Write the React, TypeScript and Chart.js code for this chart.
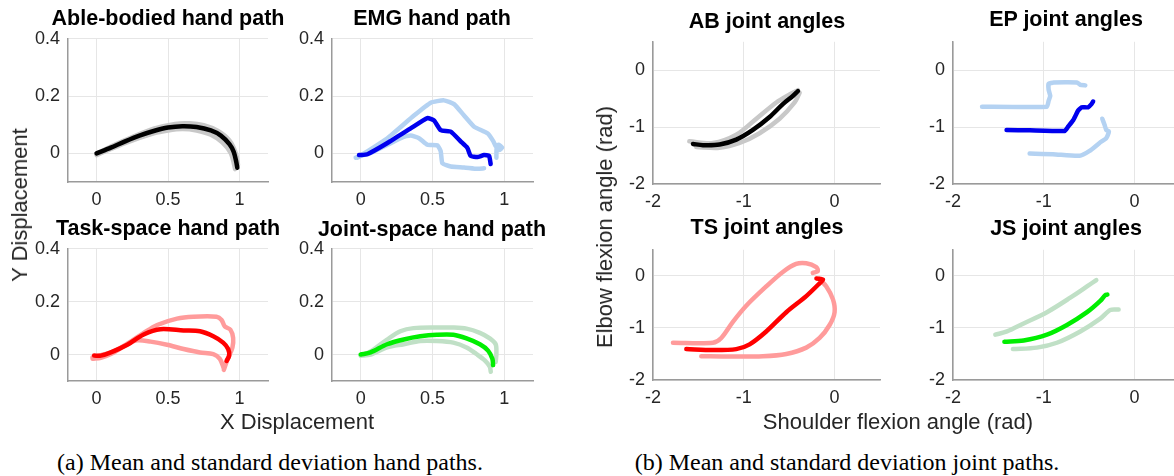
import React, { useEffect, useRef } from 'react';
import { Chart, registerables } from 'chart.js';

Chart.register(...registerables);

// ---------- tick values / labels ----------
const handXRange = [-0.2, 1.2];
const handYRange = [-0.1, 0.4];
const handXTicks = [0, 0.5, 1];
const handXTickLabels = ['0', '0.5', '1'];
const handYTicks = [0, 0.2, 0.4];
const handYTickLabels = ['0', '0.2', '0.4'];
const jointRange = [-2, 0.5];
const jointTicks = [-2, -1, 0];
const jointTickLabels = ['-2', '-1', '0'];

// ---------- titles / labels ----------
const handTitles = ['Able-bodied hand path', 'EMG hand path', 'Task-space hand path', 'Joint-space hand path'];
const jointTitles = ['AB joint angles', 'EP joint angles', 'TS joint angles', 'JS joint angles'];
const handXLabel = 'X Displacement';
const handYLabel = 'Y Displacement';
const jointXLabel = 'Shoulder flexion angle (rad)';
const jointYLabel = 'Elbow flexion angle (rad)';
const captionA = '(a) Mean and standard deviation hand paths.';
const captionB = '(b) Mean and standard deviation joint paths.';

// ---------- hand paths [x, y] ----------
const abHandMean = [[0, 0], [0.1, 0.02], [0.2, 0.042], [0.3, 0.062], [0.4, 0.078], [0.5, 0.09], [0.6, 0.095], [0.7, 0.092], [0.8, 0.08], [0.87, 0.062], [0.93, 0.032], [0.96, 0.005], [0.978, -0.03], [0.985, -0.05]];
const abHandUpper = [[0, 0], [0.2, 0.046], [0.4, 0.086], [0.55, 0.103], [0.65, 0.105], [0.75, 0.098], [0.85, 0.078], [0.93, 0.045], [0.975, 0.0], [0.99, -0.04]];
const abHandLower = [[0, -0.006], [0.2, 0.036], [0.4, 0.07], [0.5, 0.08], [0.6, 0.085], [0.7, 0.08], [0.8, 0.065], [0.88, 0.038], [0.94, 0.0], [0.97, -0.055]];

const emgHandMean = [[-0.012, -0.006], [0.047, -0.003], [0.186, 0.036], [0.348, 0.087], [0.464, 0.123], [0.51, 0.115], [0.557, 0.081], [0.627, 0.076], [0.696, 0.042], [0.743, 0.019], [0.766, -0.009], [0.813, -0.013], [0.859, -0.006], [0.894, -0.009], [0.905, -0.037]];
const emgHandUpper = [[-0.023, -0.015], [0.186, 0.053], [0.371, 0.132], [0.488, 0.177], [0.58, 0.185], [0.65, 0.172], [0.72, 0.132], [0.79, 0.093], [0.883, 0.07], [0.924, 0.042], [0.94, 0.025], [0.96, 0.03], [0.985, 0.02], [0.965, 0.012], [0.947, 0.02], [0.945, -0.015]];
const emgHandLower = [[-0.035, -0.015], [0.07, 0.002], [0.186, 0.03], [0.279, 0.053], [0.348, 0.062], [0.406, 0.053], [0.464, 0.03], [0.534, 0.028], [0.557, 0.008], [0.569, -0.035], [0.627, -0.046], [0.72, -0.049], [0.813, -0.054], [0.859, -0.052]];

const tsHandMean = [[-0.017, -0.004], [0.03, -0.004], [0.1, 0.008], [0.215, 0.037], [0.33, 0.076], [0.447, 0.096], [0.609, 0.091], [0.724, 0.088], [0.817, 0.069], [0.886, 0.045], [0.921, 0.021], [0.928, -0.004], [0.91, -0.024]];
const tsHandUpper = [[-0.028, -0.01], [0.1, 0.008], [0.215, 0.041], [0.33, 0.082], [0.424, 0.112], [0.563, 0.136], [0.678, 0.143], [0.84, 0.143], [0.875, 0.131], [0.898, 0.106], [0.937, 0.094], [0.956, 0.063], [0.951, 0.027], [0.928, -0.004], [0.91, -0.028], [0.891, -0.058]];
const tsHandLower = [[-0.028, -0.016], [0.03, -0.012], [0.1, 0.002], [0.215, 0.039], [0.285, 0.054], [0.378, 0.049], [0.493, 0.037], [0.609, 0.021], [0.724, 0.008], [0.817, 0.002], [0.863, -0.016], [0.891, -0.052]];

const jsHandMean = [[0, 0], [0.069, 0.008], [0.184, 0.039], [0.3, 0.057], [0.415, 0.069], [0.53, 0.075], [0.645, 0.075], [0.737, 0.061], [0.83, 0.039], [0.887, 0.015], [0.917, -0.016], [0.922, -0.04]];
const jsHandUpper = [[0, -0.004], [0.069, 0.012], [0.184, 0.057], [0.276, 0.088], [0.368, 0.1], [0.53, 0.102], [0.645, 0.102], [0.737, 0.098], [0.83, 0.082], [0.899, 0.061], [0.94, 0.039], [0.945, 0.002], [0.94, -0.028]];
const jsHandLower = [[0, -0.004], [0.069, 0], [0.184, 0.027], [0.3, 0.039], [0.415, 0.051], [0.53, 0.051], [0.645, 0.045], [0.737, 0.027], [0.806, 0.002], [0.864, -0.022], [0.899, -0.046], [0.906, -0.065]];

// ---------- joint paths [shoulder, elbow] ----------
const abJointMean = [[-1.56, -1.295], [-1.45, -1.317], [-1.267, -1.306], [-1.083, -1.22], [-0.9, -1.05], [-0.716, -0.823], [-0.57, -0.596], [-0.46, -0.453], [-0.404, -0.368]];
const abJointUpper = [[-1.6, -1.25], [-1.34, -1.28], [-1.083, -1.135], [-0.862, -0.852], [-0.642, -0.567], [-0.496, -0.426], [-0.404, -0.351]];
const abJointLower = [[-1.523, -1.351], [-1.267, -1.363], [-1.046, -1.278], [-0.826, -1.107], [-0.606, -0.852], [-0.44, -0.567], [-0.385, -0.397]];

const epJointMean = [[-1.41, -1.05], [-1.154, -1.056], [-0.769, -1.067], [-0.733, -0.993], [-0.677, -0.879], [-0.622, -0.709], [-0.585, -0.652], [-0.512, -0.652], [-0.475, -0.596], [-0.457, -0.55]];
const epJointUpper = [[-1.68, -0.641], [-0.965, -0.641], [-0.947, -0.538], [-0.929, -0.453], [-0.947, -0.341], [-0.947, -0.239], [-0.892, -0.215], [-0.635, -0.215], [-0.598, -0.256], [-0.543, -0.266]];
const epJointLower = [[-1.156, -1.465], [-0.9, -1.475], [-0.606, -1.504], [-0.496, -1.419], [-0.386, -1.278], [-0.312, -1.193], [-0.283, -1.078], [-0.312, -1.05], [-0.33, -0.964], [-0.356, -0.852]];

const tsJointMean = [[-1.633, -1.407], [-1.34, -1.426], [-1.083, -1.407], [-0.936, -1.315], [-0.753, -1.068], [-0.532, -0.698], [-0.312, -0.389], [-0.165, -0.143], [-0.128, -0.07], [-0.2, -0.05]];
const tsJointUpper = [[-1.78, -1.285], [-1.34, -1.285], [-1.248, -1.193], [-1.12, -0.883], [-0.973, -0.574], [-0.753, -0.204], [-0.57, 0.074], [-0.424, 0.228], [-0.312, 0.241], [-0.202, 0.167], [-0.184, 0.093], [-0.24, 0.056]];
const tsJointLower = [[-0.17, -0.06], [-0.091, -0.204], [-0.018, -0.452], [0, -0.698], [-0.055, -0.944], [-0.165, -1.193], [-0.312, -1.378], [-0.532, -1.5], [-0.789, -1.544], [-1.156, -1.55], [-1.468, -1.544]];

const jsJointMean = [[-1.434, -1.266], [-1.222, -1.241], [-0.965, -1.13], [-0.745, -0.944], [-0.524, -0.698], [-0.378, -0.481], [-0.323, -0.37], [-0.3, -0.36]];
const jsJointUpper = [[-1.534, -1.13], [-1.405, -1.068], [-1.222, -0.914], [-0.965, -0.698], [-0.708, -0.42], [-0.524, -0.204], [-0.422, -0.081]];
const jsJointLower = [[-1.34, -1.407], [-1.076, -1.378], [-0.856, -1.285], [-0.598, -1.068], [-0.378, -0.822], [-0.268, -0.656], [-0.176, -0.648]];

// ---------- styling ----------
const FONT = '"Liberation Sans", Arial, Helvetica, sans-serif';
const SERIF = '"Liberation Serif", "Times New Roman", serif';
const TICK_COLOR = '#262626';
const GRID_COLOR = '#e6e6e6';
const AXIS_COLOR = '#9a9a9a';
const WY = 60; // y-axis box width
const HX = 40; // x-axis box height
const PT = 14; // top padding
const PR = 20; // right padding
const MEAN_W = 4.5;
const BAND_W = 4.5;

type Series = { data: number[][]; color: string; width: number; tension: number; layer: number };
type Box = { l: number; t: number; r: number; b: number };

function Panel(props: {
  box: Box; xRange: number[]; yRange: number[];
  xTicks: number[]; xLabels: string[]; yTicks: number[]; yLabels: string[];
  series: Series[];
}) {
  const ref = useRef<HTMLCanvasElement | null>(null);
  const { box } = props;
  const w = box.r - box.l + WY + PR;
  const h = box.b - box.t + PT + HX;
  useEffect(() => {
    const chart = new Chart(ref.current as HTMLCanvasElement, {
      type: 'scatter',
      data: {
        datasets: props.series.map((s) => ({
          data: s.data.map(([x, y]) => ({ x, y })),
          borderColor: s.color,
          backgroundColor: s.color,
          borderWidth: s.width,
          showLine: true,
          pointRadius: 0,
          pointHoverRadius: 0,
          tension: s.tension,
          borderCapStyle: 'round',
          borderJoinStyle: 'round',
          fill: false,
          order: s.layer,
        })),
      },
      options: {
        responsive: false,
        animation: false,
        events: [],
        layout: { padding: { top: PT, right: PR, left: 0, bottom: 0 } },
        plugins: { legend: { display: false }, tooltip: { enabled: false }, title: { display: false } },
        scales: {
          x: {
            type: 'linear',
            min: props.xRange[0],
            max: props.xRange[1],
            afterBuildTicks: (s: any) => { s.ticks = props.xTicks.map((v) => ({ value: v })); },
            afterFit: (s: any) => { s.height = HX; },
            ticks: {
              autoSkip: false,
              maxRotation: 0,
              padding: 7,
              color: TICK_COLOR,
              font: { size: 18, family: FONT },
              callback: (_v: any, i: number) => props.xLabels[i],
            },
            grid: { color: GRID_COLOR, drawTicks: false, lineWidth: 1 },
            border: { display: true, color: AXIS_COLOR, width: 1.5 },
          },
          y: {
            type: 'linear',
            min: props.yRange[0],
            max: props.yRange[1],
            afterBuildTicks: (s: any) => { s.ticks = props.yTicks.map((v) => ({ value: v })); },
            afterFit: (s: any) => { s.width = WY; },
            ticks: {
              autoSkip: false,
              padding: 8,
              color: TICK_COLOR,
              font: { size: 18, family: FONT },
              callback: (_v: any, i: number) => props.yLabels[i],
            },
            grid: { color: GRID_COLOR, drawTicks: false, lineWidth: 1 },
            border: { display: true, color: AXIS_COLOR, width: 1.5 },
          },
        },
      } as any,
    });
    return () => chart.destroy();
  }, []);
  return (
    <canvas
      ref={ref}
      width={w}
      height={h}
      style={{ position: 'absolute', left: box.l - WY, top: box.t - PT, width: w, height: h }}
    />
  );
}

function Label(props: { text: string; x: number; y: number; size: number; bold?: boolean; rotate?: boolean; family?: string; color?: string }) {
  return (
    <div
      style={{
        position: 'absolute',
        left: props.x,
        top: props.y,
        transform: `translate(-50%, -50%)${props.rotate ? ' rotate(-90deg)' : ''}`,
        fontFamily: props.family || FONT,
        fontSize: props.size,
        fontWeight: props.bold ? 'bold' : 'normal',
        lineHeight: 1,
        whiteSpace: 'nowrap',
        color: props.color || '#000',
      }}
    >
      {props.text}
    </div>
  );
}

// bands are drawn below (higher order), mean on top (order 0)
const band = (data: number[][], color: string, tension: number): Series => ({ data, color, width: BAND_W, tension, layer: 1 });
const mean = (data: number[][], color: string, tension: number): Series => ({ data, color, width: MEAN_W, tension, layer: 0 });

const GRAY_BAND = 'rgb(200,200,200)';
const BLUE_BAND = 'rgb(180,210,242)';
const RED_BAND = 'rgb(255,155,155)';
const GREEN_BAND = 'rgb(192,224,198)';

export default function App() {
  useEffect(() => {
    document.body.style.margin = '0';
  }, []);
  const hand = { xRange: handXRange, yRange: handYRange, xTicks: handXTicks, xLabels: handXTickLabels, yTicks: handYTicks, yLabels: handYTickLabels };
  const joint = { xRange: jointRange, yRange: jointRange, xTicks: jointTicks, xLabels: jointTickLabels, yTicks: jointTicks, yLabels: jointTickLabels };
  return (
    <div style={{ position: 'fixed', left: 0, top: 0, width: 1174, height: 476, overflow: 'hidden', background: '#fff' }}>
      <Panel box={{ l: 68, t: 34, r: 268, b: 182 }} {...hand}
        series={[band(abHandUpper, GRAY_BAND, 0.3), band(abHandLower, GRAY_BAND, 0.3), mean(abHandMean, '#000000', 0.3)]} />
      <Panel box={{ l: 332, t: 34, r: 533, b: 182 }} {...hand}
        series={[band(emgHandUpper, BLUE_BAND, 0.15), band(emgHandLower, BLUE_BAND, 0.15), mean(emgHandMean, '#0000ee', 0.15)]} />
      <Panel box={{ l: 68, t: 244, r: 268, b: 381 }} {...hand}
        series={[band(tsHandUpper, RED_BAND, 0.3), band(tsHandLower, RED_BAND, 0.3), mean(tsHandMean, '#ff0000', 0.3)]} />
      <Panel box={{ l: 332, t: 244, r: 533, b: 381 }} {...hand}
        series={[band(jsHandUpper, GREEN_BAND, 0.3), band(jsHandLower, GREEN_BAND, 0.3), mean(jsHandMean, '#00ee00', 0.3)]} />

      <Panel box={{ l: 653, t: 37, r: 880, b: 184 }} {...joint}
        series={[band(abJointUpper, GRAY_BAND, 0.3), band(abJointLower, GRAY_BAND, 0.3), mean(abJointMean, '#000000', 0.3)]} />
      <Panel box={{ l: 953, t: 37, r: 1180, b: 184 }} {...joint}
        series={[band(epJointUpper, BLUE_BAND, 0.1), band(epJointLower, BLUE_BAND, 0.2), mean(epJointMean, '#0000ee', 0.1)]} />
      <Panel box={{ l: 653, t: 245, r: 880, b: 380 }} {...joint}
        series={[band(tsJointUpper, RED_BAND, 0.3), band(tsJointLower, RED_BAND, 0.3), mean(tsJointMean, '#ff0000', 0.3)]} />
      <Panel box={{ l: 953, t: 245, r: 1180, b: 380 }} {...joint}
        series={[band(jsJointUpper, GREEN_BAND, 0.3), band(jsJointLower, GREEN_BAND, 0.3), mean(jsJointMean, '#00ee00', 0.3)]} />

      <Label text={handTitles[0]} x={168} y={19} size={21.5} bold />
      <Label text={handTitles[1]} x={432} y={19} size={21.5} bold />
      <Label text={handTitles[2]} x={168} y={229} size={21.5} bold />
      <Label text={handTitles[3]} x={432} y={230} size={21.5} bold />
      <Label text={jointTitles[0]} x={767} y={22} size={21.5} bold />
      <Label text={jointTitles[1]} x={1066} y={20} size={21.5} bold />
      <Label text={jointTitles[2]} x={767} y={228} size={21.5} bold />
      <Label text={jointTitles[3]} x={1066} y={229} size={21.5} bold />

      <Label text={handYLabel} x={20} y={205} size={22} rotate color={TICK_COLOR} />
      <Label text={handXLabel} x={297} y={422} size={22} color={TICK_COLOR} />
      <Label text={jointYLabel} x={605} y={227} size={22} rotate color={TICK_COLOR} />
      <Label text={jointXLabel} x={898} y={422} size={22} color={TICK_COLOR} />

      <Label text={captionA} x={270} y={462} size={24} family={SERIF} />
      <Label text={captionB} x={847} y={462} size={24} family={SERIF} />
    </div>
  );
}
